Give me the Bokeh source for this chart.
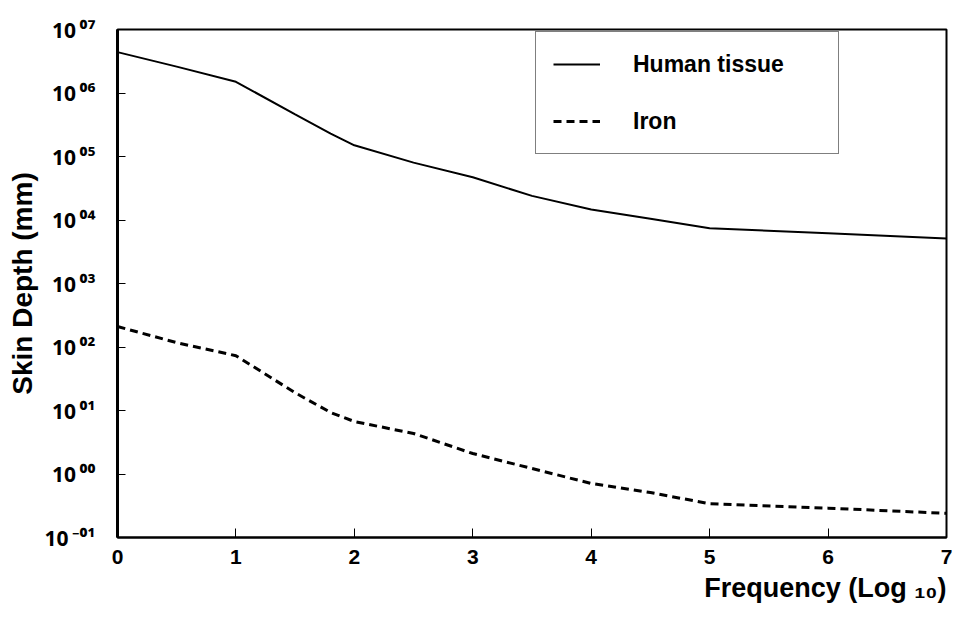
from bokeh.plotting import figure
from bokeh.models import Range1d, FixedTicker, Legend, LegendItem, CustomJSTickFormatter, Title
from bokeh.embed import file_html
from bokeh.resources import INLINE

# Data
freq_log = [0, 0.5, 1, 1.5, 1.8, 2, 2.5, 3, 3.5, 4, 4.5, 5, 6, 7]
human_tissue = [4.4e6, 2.6e6, 1.5e6, 4.6e5, 2.3e5, 1.5e5, 8.0e4, 4.7e4, 2.4e4, 1.46e4, 1.05e4, 7.4e3, 6.2e3, 5.1e3]
iron = [210, 117, 73, 19, 9.3, 6.7, 4.35, 2.1, 1.22, 0.71, 0.51, 0.34, 0.29, 0.24]

x_ticks = [0, 1, 2, 3, 4, 5, 6, 7]
y_tick_values = [1e-1, 1e0, 1e1, 1e2, 1e3, 1e4, 1e5, 1e6, 1e7]
y_tick_exponents = ["-01", "00", "01", "02", "03", "04", "05", "06", "07"]
x_title = "Frequency (Log \u2081\u2080)"
y_title = "Skin Depth (mm)"

SUP = {"0": "\u2070", "1": "\u00b9", "2": "\u00b2", "3": "\u00b3", "4": "\u2074",
       "5": "\u2075", "6": "\u2076", "7": "\u2077", "8": "\u2078", "9": "\u2079", "-": "\u207b"}
y_tick_labels = ["10\u2009" + "".join(SUP[c] for c in e) for e in y_tick_exponents]

FONT = "Liberation Sans"

p = figure(width=953, height=627, y_axis_type="log",
           x_range=Range1d(0, 7), y_range=Range1d(0.1, 1e7),
           output_backend="svg", toolbar_location=None,
           min_border_left=117, min_border_right=7,
           min_border_top=29, min_border_bottom=90)
p.grid.visible = False
p.outline_line_color = "black"
p.outline_line_width = 2
p.background_fill_color = "white"
p.border_fill_color = "white"

r1 = p.line(freq_log, human_tissue, line_color="black", line_width=2)
r2 = p.line(freq_log, iron, line_color="black", line_width=3, line_dash="8 5")

# x axis
xa = p.xaxis[0]
xa.ticker = FixedTicker(ticks=x_ticks)
xa.major_label_text_font = FONT
xa.major_label_text_font_style = "bold"
xa.major_label_text_font_size = "21px"
xa.major_label_text_color = "black"
xa.major_label_standoff = 12
xa.major_tick_in = 9
xa.major_tick_out = 0
xa.minor_tick_in = 0
xa.minor_tick_out = 0
xa.axis_line_width = 2
xa.major_tick_line_width = 1

# x axis title, right-aligned under the axis
p.add_layout(Title(text=x_title, align="right", standoff=8, padding=(12, 0, 0, 0),
                   text_font="Liberation Sans, Noto Sans", text_font_style="bold",
                   text_font_size="27px", text_color="black"), "below")

# y axis
ya = p.yaxis[0]
ya.ticker = FixedTicker(ticks=y_tick_values)
ya.formatter = CustomJSTickFormatter(args=dict(labels=y_tick_labels),
                                     code="return labels[Math.round(Math.log10(tick)) + 1];")
ya.major_label_text_font = "Noto Sans"
ya.major_label_text_font_style = "bold"
ya.major_label_text_font_size = "21px"
ya.major_label_text_color = "black"
ya.major_label_standoff = 22
ya.major_tick_in = 8
ya.major_tick_out = 0
ya.minor_tick_in = 3
ya.minor_tick_out = 0
ya.axis_line_width = 3
ya.axis_label = y_title
ya.axis_label_text_font = FONT
ya.axis_label_text_font_style = "bold"
ya.axis_label_text_font_size = "28px"
ya.axis_label_text_color = "black"
ya.axis_label_standoff = 4

legend = Legend(items=[LegendItem(label="Human tissue", renderers=[r1]),
                       LegendItem(label="Iron", renderers=[r2])],
                location=(418, 383), orientation="vertical",
                glyph_width=47, glyph_height=30, label_height=30, label_width=188,
                label_standoff=33, spacing=27, padding=17, margin=0,
                border_line_color="black", border_line_width=1,
                background_fill_color="white", background_fill_alpha=1,
                label_text_font=FONT, label_text_font_style="bold",
                label_text_font_size="23px", label_text_color="black")
p.add_layout(legend)

open("out.html", "w").write(file_html(p, INLINE))
